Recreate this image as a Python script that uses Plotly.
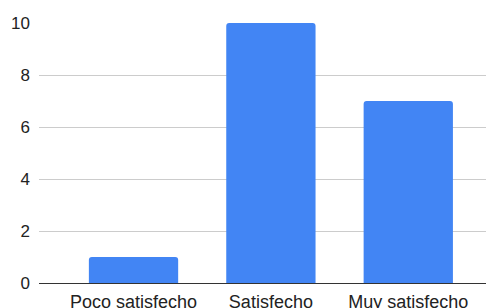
import plotly.graph_objects as go

categories = ["Poco satisfecho", "Satisfecho", "Muy satisfecho"]
values = [1, 10, 7]
y_ticks = [0, 2, 4, 6, 8, 10]

fig = go.Figure(
    go.Bar(
        x=categories,
        y=values,
        marker=dict(color="#4285F4", cornerradius=3, line=dict(width=0)),
        width=0.65,
    )
)

# the page body adds an 8px offset, so the figure is 8px smaller
fig.update_layout(
    width=486,
    height=300,
    margin=dict(l=31, r=0, t=15, b=25, autoexpand=False),
    paper_bgcolor="white",
    plot_bgcolor="white",
    font=dict(family="Liberation Sans, Arial, sans-serif", size=17, color="#222222"),
    showlegend=False,
    bargap=0.35,
)
fig.update_xaxes(
    range=[-0.688, 2.624],
    showgrid=False,
    showline=False,
    ticks="",
    automargin=False,
    ticklabelstandoff=6,
    tickfont=dict(size=18),
)
fig.update_yaxes(
    range=[0, 10],
    tickvals=y_ticks,
    showgrid=True,
    gridcolor="#cccccc",
    gridwidth=1,
    zeroline=True,
    zerolinecolor="#333333",
    zerolinewidth=1,
    showline=False,
    ticks="",
    automargin=False,
    ticklabelstandoff=8,
    tickfont=dict(size=17),
)

fig.write_html("out.html")
